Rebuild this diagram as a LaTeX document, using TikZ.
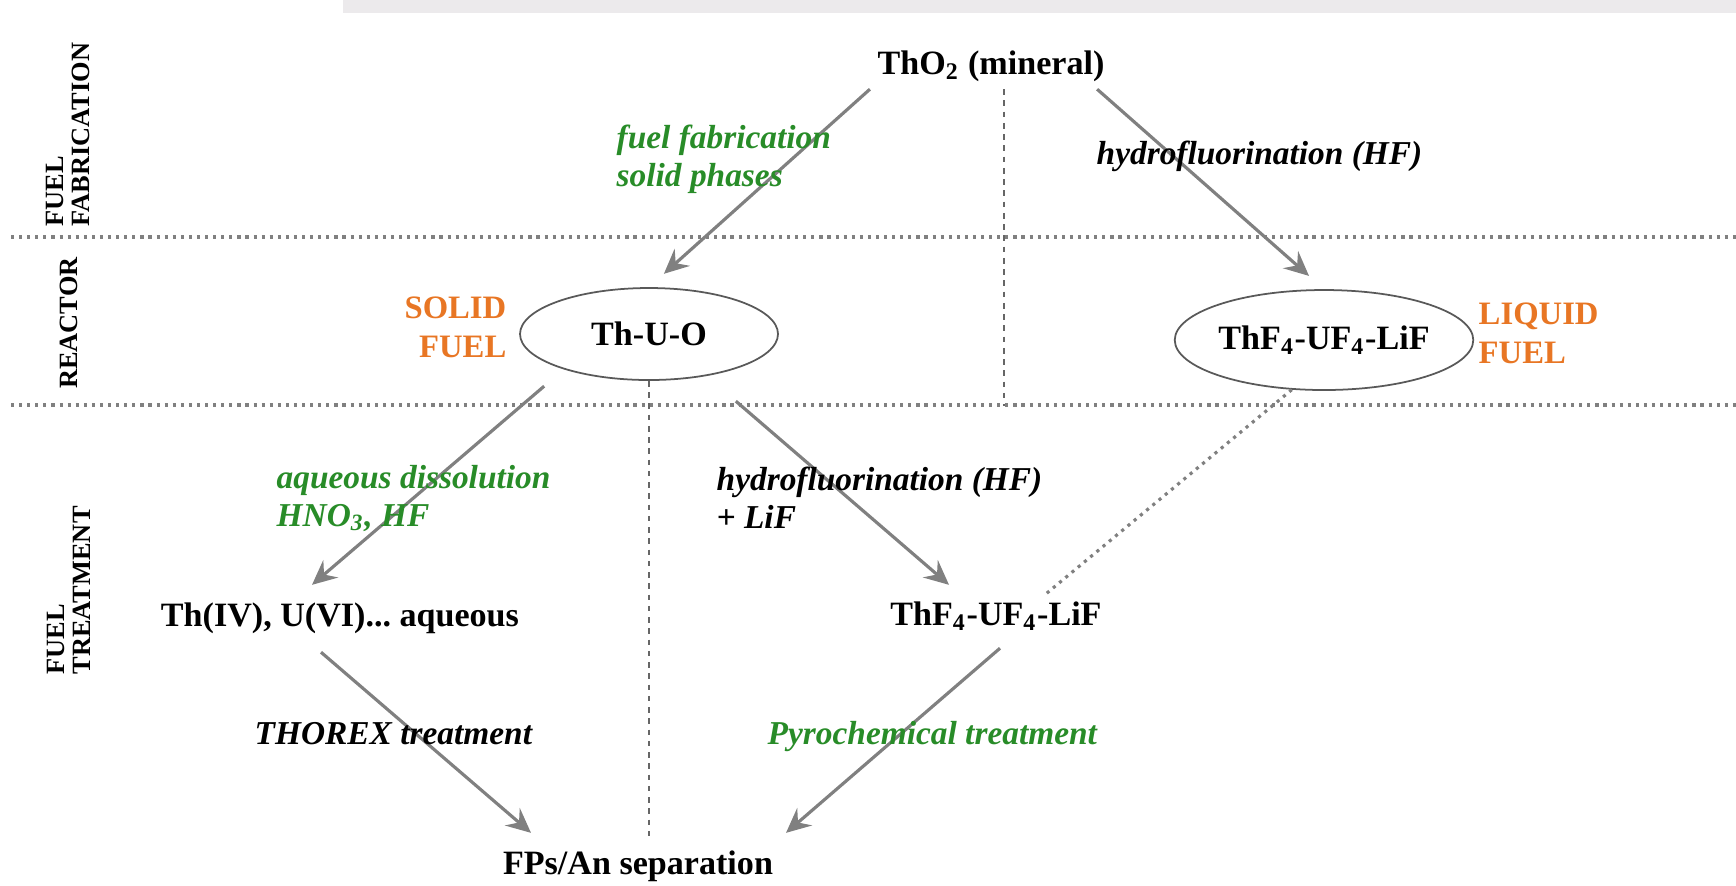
\documentclass[tikz,border=0pt]{standalone}
\usepackage{fontspec}
\setmainfont{Liberation Serif}
\usetikzlibrary{shapes.geometric,arrows.meta}

\definecolor{procgreen}{RGB}{40,140,40}
\definecolor{fuelorange}{RGB}{232,118,36}
\definecolor{arrowgray}{RGB}{128,128,128}
\definecolor{bargray}{RGB}{236,234,236}

\tikzset{
  flow/.style={draw=arrowgray, line width=0.9pt, -{Stealth[length=7pt,width=6.5pt,inset=2.5pt]}},
  zoneline/.style={draw=gray, line width=0.9pt, dash pattern=on 0.9pt off 1.4pt},
  guide/.style={draw=gray!80!black, line width=0.5pt, dash pattern=on 1.6pt off 1.6pt},
  chem/.style={font=\fontsize{9.7}{11}\selectfont\bfseries\frenchspacing, inner sep=2pt},
  fuelbox/.style={chem, ellipse, draw=gray!70!black, line width=0.5pt, inner sep=0pt},
  proc/.style={font=\fontsize{9.5}{10.8}\selectfont\bfseries\itshape, align=left, inner sep=0pt, anchor=west},
  phase/.style={text=fuelorange, font=\fontsize{9.3}{11}\selectfont\bfseries, inner sep=0pt},
  rowlabel/.style={rotate=90, font=\fontsize{7.5}{7.2}\selectfont\bfseries, align=left, inner sep=0pt}
}

\begin{document}
\begin{tikzpicture}
      \useasboundingbox (0,0) rectangle (17.36,-8.85);
      \fill [bargray] (3.43,0) rectangle (17.36,-0.13);
      % zones
      \draw [zoneline] (0.11,-2.37) -- (17.36,-2.37);
      \draw [zoneline] (0.11,-4.05) -- (17.36,-4.05);
      \node [rowlabel, anchor=west] (zfab) at (0.68,-2.27) {FUEL\\FABRICATION};
      \node [rowlabel] (zreac) at (0.69,-3.23) {REACTOR};
      \node [rowlabel, anchor=west] (ztreat) at (0.69,-6.75) {FUEL\\TREATMENT};
      % products
      \node [chem] (tho2) at (9.91,-0.66) {ThO\textsubscript{2} (mineral)};
      \node [fuelbox, minimum width=2.58cm, minimum height=0.92cm] (thuo) at (6.49,-3.34) {Th-U-O};
      \node [fuelbox, minimum width=2.91cm, minimum height=1.00cm] (thfu) at (13.24,-3.40) {ThF\textsubscript{4}-UF\textsubscript{4}-LiF};
      \node [chem] (thiv) at (3.40,-6.18) {Th(IV), U(VI)... aqueous};
      \node [chem] (thfl) at (9.96,-6.16) {ThF\textsubscript{4}-UF\textsubscript{4}-LiF};
      \node [chem] (fps) at (6.38,-8.66) {FPs/An separation};
      \node [phase, align=right, anchor=east] (solid) at (5.07,-3.27) {SOLID\\FUEL};
      \node [phase, align=left, anchor=west] (liquid) at (14.78,-3.33) {LIQUID\\FUEL};
      % separators
      \draw [guide] ([xshift=0.13cm]tho2.south) -- ++(0,-3.17);
      \draw [guide] (thuo.south) -- ++(0,-4.56);
      \draw [zoneline] (thfu.237) -- ([xshift=0.5cm]thfl.north);
      % processes
      \draw [flow, shorten >=0.2cm] (tho2.south west) -- (thuo.north);
      \draw [flow, shorten >=0.2cm] ([xshift=-0.15cm]tho2.south east) -- (thfu.north);
      \draw [flow] ([shift={(-0.13,-0.19)}]thuo.south west) -- ([shift={(-0.28,0.10)}]thiv.north);
      \draw [flow] ([shift={(-0.05,-0.34)}]thuo.south east) -- ([shift={(-0.47,0.09)}]thfl.north);
      \draw [flow] ([shift={(-0.19,-0.11)}]thiv.south) -- ([shift={(-1.07,0.10)}]fps.north);
      \draw [flow] ([shift={(0.04,-0.10)}]thfl.south) -- ([shift={(1.48,0.10)}]fps.north);
      \node [proc, text=procgreen] (fab) at (6.16,-1.59) {fuel fabrication\\solid phases};
      \node [proc] (hfa) at (10.96,-1.56) {hydrofluorination (HF)};
      \node [proc, text=procgreen] (aq) at (2.76,-4.98) {aqueous dissolution\\HNO\textsubscript{3}, HF};
      \node [proc] (hfb) at (7.16,-4.98) {hydrofluorination (HF)\\+ LiF};
      \node [proc] (thorex) at (2.54,-7.34) {THOREX treatment};
      \node [proc, text=procgreen] (pyro) at (7.67,-7.36) {Pyrochemical treatment};
\end{tikzpicture}
\end{document}
